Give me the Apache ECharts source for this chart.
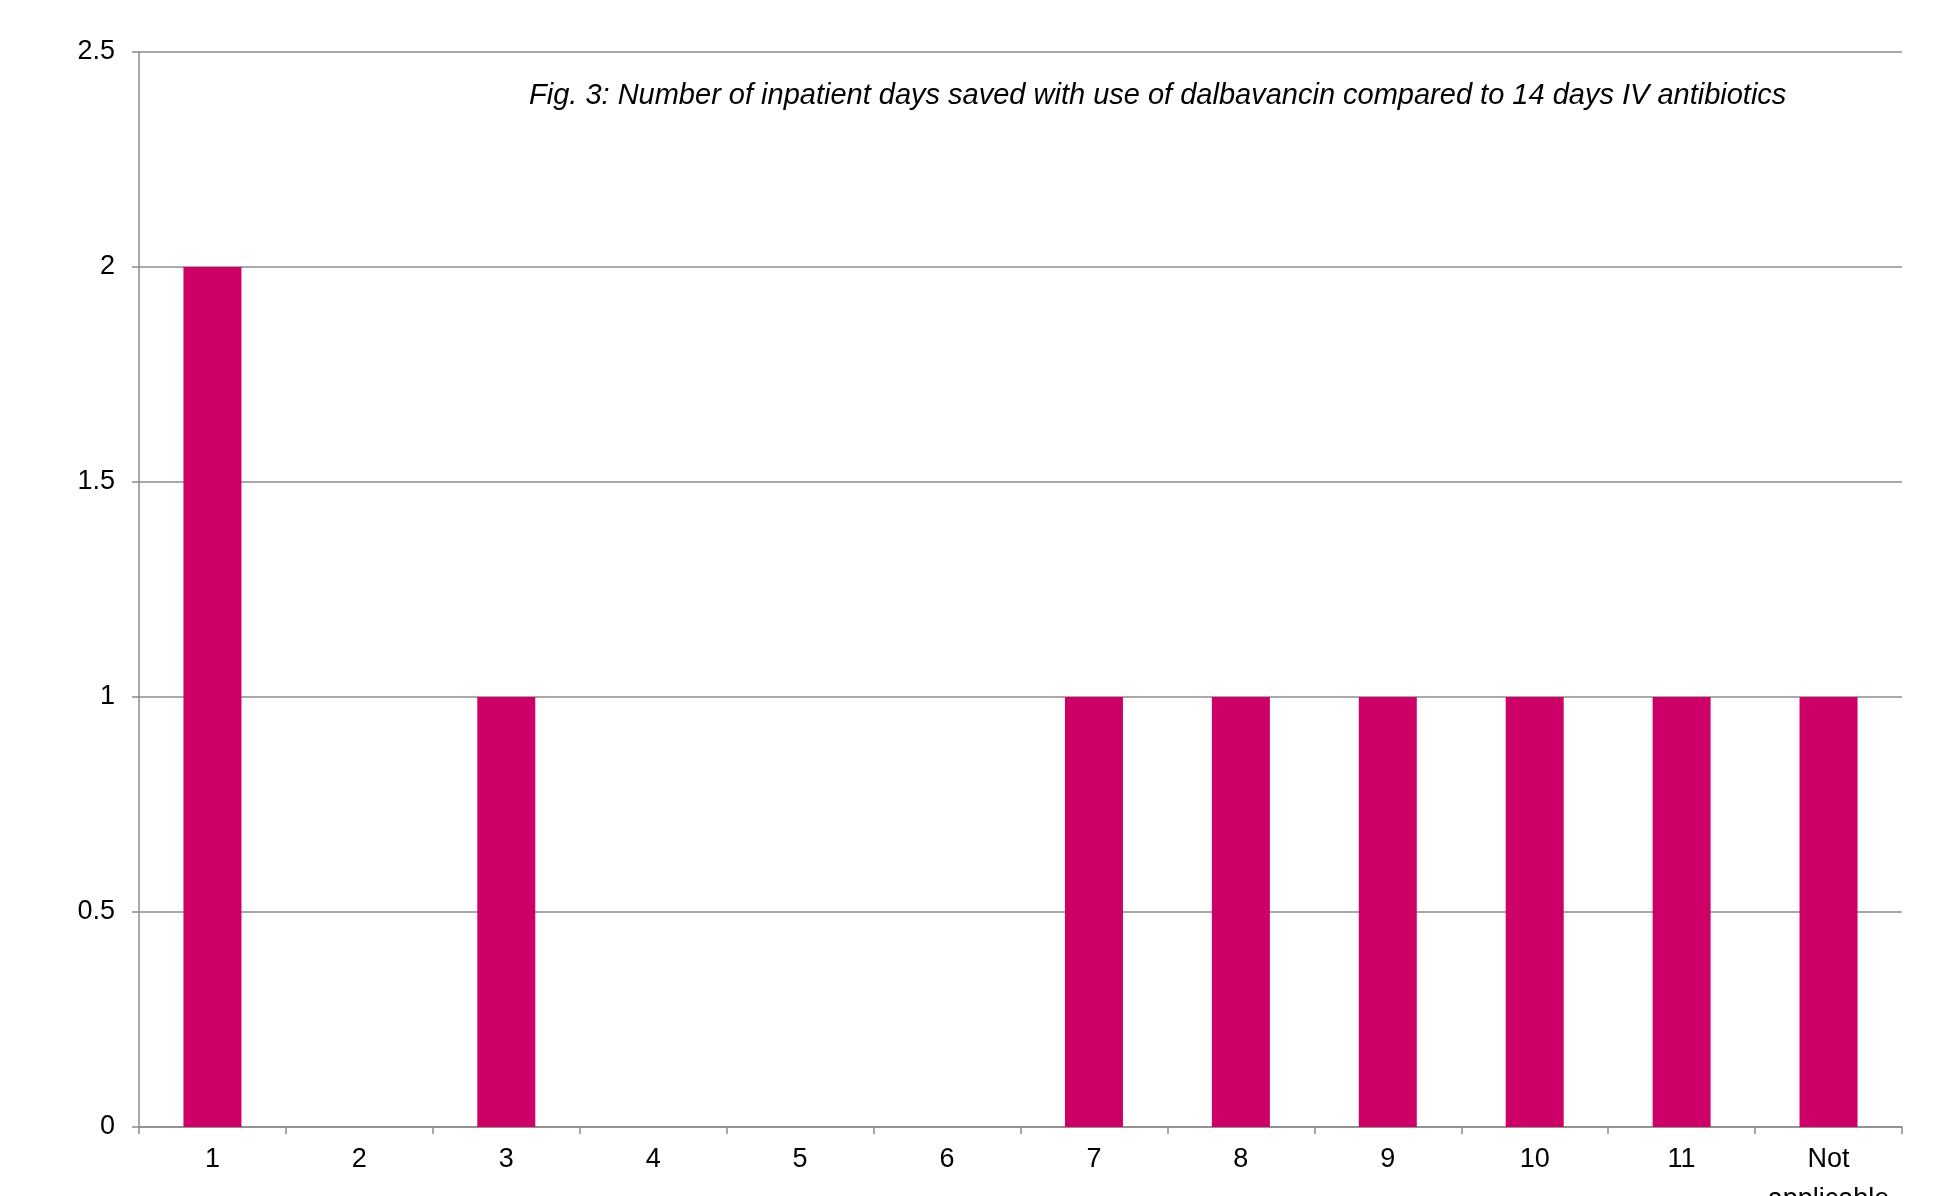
<!DOCTYPE html>
<html>
<head>
<meta charset="utf-8">
<title>Inpatient days saved with dalbavancin</title>
<script src="https://cdn.jsdelivr.net/npm/echarts@6/dist/echarts.min.js"></script>
<style>
  html, body { margin: 0; padding: 0; background: #ffffff; }
  #chart { width: 1942px; height: 1196px; }
</style>
</head>
<body>
<div id="chart"></div>
<script>
// Days saved (category) and number of patients in each
const categories = ['1', '2', '3', '4', '5', '6', '7', '8', '9', '10', '11', 'Not\napplicable'];
const patientCounts = [2, 0, 1, 0, 0, 0, 1, 1, 1, 1, 1, 1];
const yTicks = { min: 0, max: 2.5, interval: 0.5 };
const titleText = 'Fig. 3: Number of inpatient days saved with use of dalbavancin compared to 14 days IV antibiotics';

const chart = echarts.init(document.getElementById('chart'), null, { renderer: 'canvas' });
const lineColor = '#8c8c8c';
const fontFamily = '"Liberation Sans", Arial, sans-serif';

chart.setOption({
  animation: false,
  backgroundColor: '#ffffff',
  title: {
    text: titleText,
    left: 524,
    top: 76,
    textStyle: {
      fontFamily: fontFamily,
      fontStyle: 'italic',
      fontWeight: 'normal',
      fontSize: 29,
      color: '#000000'
    }
  },
  // fixed plot rectangle; the wrapped last category label runs off the bottom edge
  grid: { left: 139, right: 40, top: 52, bottom: 69, containLabel: false, outerBoundsMode: 'none' },
  xAxis: {
    type: 'category',
    data: categories,
    axisLine: { show: true, lineStyle: { color: lineColor, width: 1.5 } },
    axisTick: { show: true, alignWithLabel: false, length: 7, lineStyle: { color: lineColor, width: 1.5 } },
    axisLabel: {
      margin: 13,
      fontFamily: fontFamily,
      fontSize: 27,
      lineHeight: 40,
      color: '#000000',
      interval: 0
    }
  },
  yAxis: {
    type: 'value',
    min: yTicks.min,
    max: yTicks.max,
    interval: yTicks.interval,
    axisLine: { show: true, lineStyle: { color: lineColor, width: 1.5 } },
    axisTick: { show: true, length: 7, lineStyle: { color: lineColor, width: 1.5 } },
    axisLabel: {
      margin: 24,
      fontFamily: fontFamily,
      fontSize: 27,
      color: '#000000'
    },
    splitLine: { show: true, lineStyle: { color: lineColor, width: 1.5 } }
  },
  series: [{
    type: 'bar',
    data: patientCounts,
    barWidth: 58,
    itemStyle: { color: '#cc0066' }
  }]
});
</script>
</body>
</html>
